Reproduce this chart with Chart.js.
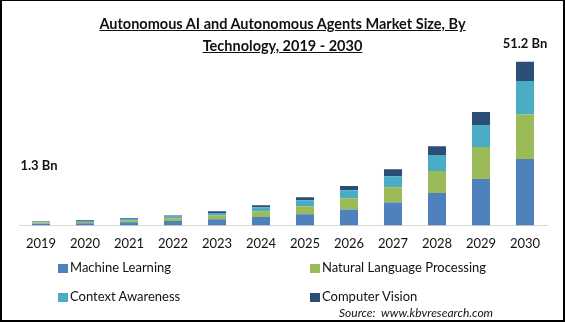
<!DOCTYPE html>
<html>
<head>
<meta charset="utf-8">
<script src="https://cdn.jsdelivr.net/npm/chart.js@4"></script>
<style>
  html, body { margin:0; padding:0; background:#fff; }
  #wrap { position:relative; width:565px; height:322px; font-family:Lato, "Noto Sans", sans-serif; color:#111; overflow:hidden; }
  #frame { position:absolute; left:0; top:0; width:565px; height:322px; box-sizing:border-box;
           border:2px solid #000; border-top-width:1px; pointer-events:none; z-index:3; }
  #c { position:absolute; left:0; top:0; }
  #title { position:absolute; left:0; width:565px; top:13px; text-align:center; font-weight:bold;
           font-size:14.5px; line-height:22px; text-decoration:underline; }
  .lg { position:absolute; font-size:13px; line-height:16px; white-space:nowrap; }
  .lg i { display:inline-block; width:10px; height:9px; margin-right:2px; vertical-align:-1px; }
  #src { position:absolute; left:339px; top:305px; font-size:12px; font-style:italic; }
</style>
</head>
<body>
<div id="wrap">
  <canvas id="c" width="565" height="322"></canvas>
  <div id="title">Autonomous AI and Autonomous Agents Market Size, By<br>Technology, 2019 - 2030</div>
  <div id="legend"></div>
  <div id="src">Source:&nbsp; www.kbvresearch.com</div>
  <div id="frame"></div>
</div>
<script>
const years = ['2019','2020','2021','2022','2023','2024','2025','2026','2027','2028','2029','2030'];
const machineLearning = [0.55, 0.7, 1.0, 1.4, 1.9, 2.6, 3.5, 5.0, 7.2, 10.1, 14.5, 20.8];
const nlp             = [0.35, 0.4, 0.6, 0.8, 1.2, 1.8, 2.5, 3.5, 4.7, 6.9, 10.0, 14.0];
const contextAware    = [0.25, 0.3, 0.45, 0.6, 0.8, 1.3, 1.9, 2.5, 3.5, 5.0, 6.9, 10.4];
const computerVision  = [0.15, 0.2, 0.25, 0.3, 0.5, 0.6, 0.9, 1.3, 2.2, 2.8, 4.1, 6.0];
const seriesNames  = ['Machine Learning', 'Natural Language Processing', 'Context Awareness', 'Computer Vision'];
const seriesColors = ['#4F81BD', '#9BBB59', '#4BACC6', '#2C4D75'];
const endLabels = ['1.3 Bn', '51.2 Bn'];

// legend (2 x 2)
const legPos = [[58,259],[310,259],[58,288],[310,288]];
document.getElementById('legend').innerHTML = seriesNames.map((n,i) =>
  `<div class="lg" style="left:${legPos[i][0]}px;top:${legPos[i][1]}px"><i style="background:${seriesColors[i]}"></i>${n}</div>`
).join('');

// value labels on first and last bar
const endLabelPlugin = {
  id:'endLabels',
  afterDatasetsDraw(chart) {
    const meta = chart.getDatasetMeta(3);
    const ctx = chart.ctx;
    ctx.save();
    ctx.font = 'bold 13px Lato, "Noto Sans", sans-serif';
    ctx.fillStyle = '#111';
    ctx.textAlign = 'center';
    ctx.textBaseline = 'middle';
    const first = meta.data[0], last = meta.data[meta.data.length-1];
    ctx.fillText(endLabels[0], first.x - 2, 166);
    ctx.fillText(endLabels[1], last.x, last.y - 18);
    ctx.restore();
  }
};

const data = [machineLearning, nlp, contextAware, computerVision];

new Chart(document.getElementById('c'), {
  type:'bar',
  data:{
    labels: years,
    datasets: data.map((d,i) => ({
      label: seriesNames[i], data: d, backgroundColor: seriesColors[i],
      barPercentage: 0.41, categoryPercentage: 1
    }))
  },
  options:{
    responsive:false,
    animation:false,
    layout:{ padding:{ left:19, right:18, top:40, bottom:59 } },
    plugins:{ legend:{display:false}, title:{display:false}, tooltip:{enabled:false} },
    scales:{
      x:{ stacked:true,
          grid:{ display:false, drawTicks:false },
          border:{ display:true, color:'#D9D9D9', width:1 },
          ticks:{ padding:11, color:'#111', font:{ family:'Lato, "Noto Sans", sans-serif', size:13 } } },
      y:{ stacked:true, display:false, min:0, max:58 }
    }
  },
  plugins:[endLabelPlugin]
});
</script>
</body>
</html>
